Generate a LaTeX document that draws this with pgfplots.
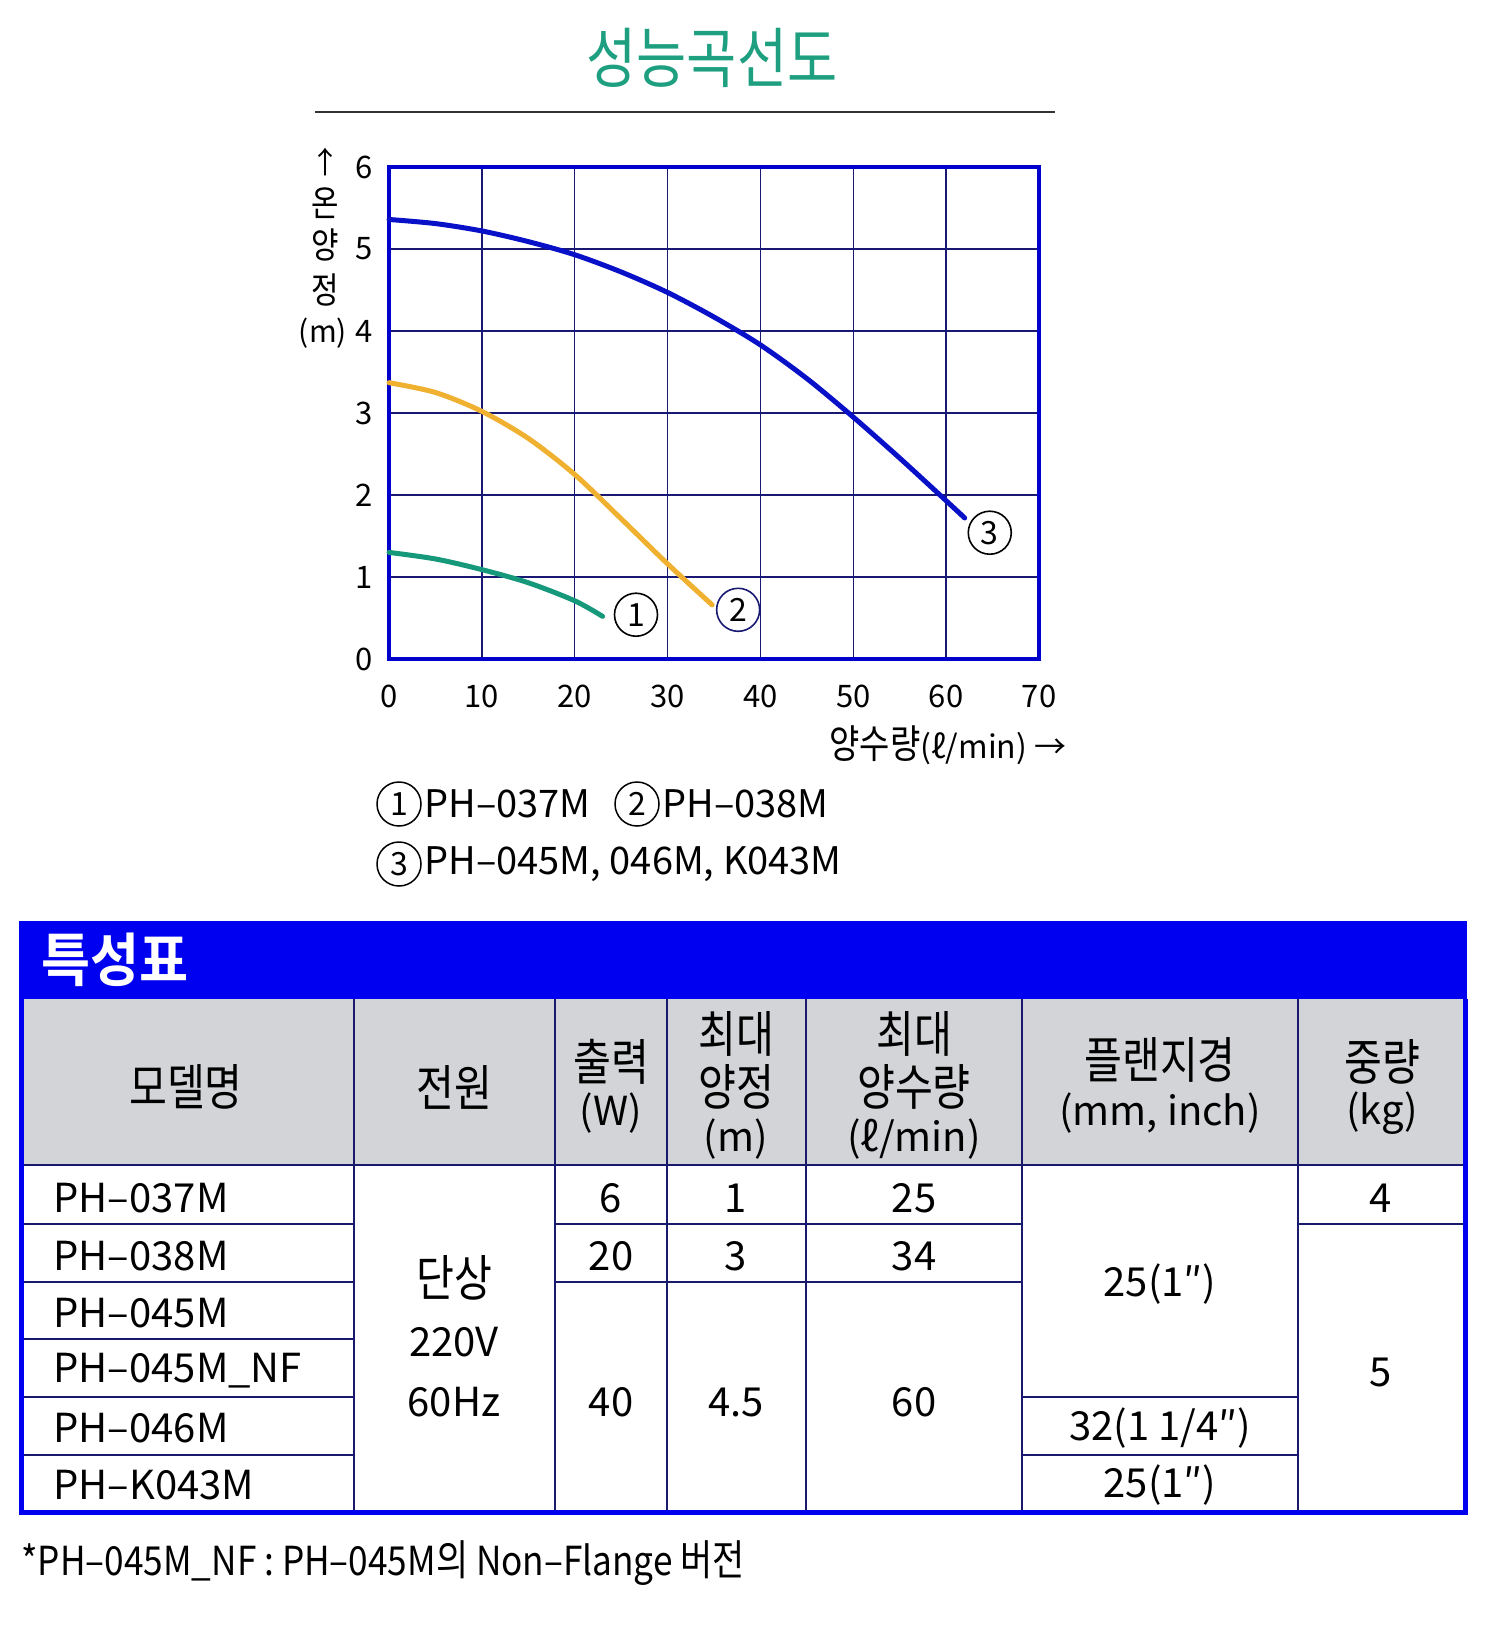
\documentclass[border=0pt]{standalone}
\usepackage{fontspec}
\usepackage{pgfplots}
\pgfplotsset{compat=1.18}
\setmainfont{Noto Sans CJK KR}
\newfontfamily\krfont{Noto Sans CJK KR}[FakeStretch=0.83,Scale=1.24]
\newfontfamily\narrowfont{Noto Sans CJK KR}[FakeStretch=0.88]
\newfontfamily\boldkr{Noto Sans CJK KR Bold}[FakeStretch=0.92]
\newcommand\K[1]{{\krfont #1}}
\newcommand\fs[1]{\fontsize{#1}{#1}\selectfont}

\definecolor{titlegreen}{RGB}{30,160,128}
\definecolor{c1}{RGB}{22,152,122}
\definecolor{c2}{RGB}{240,176,48}
\definecolor{c3}{RGB}{8,16,200}
\definecolor{axisblue}{RGB}{0,0,205}
\definecolor{gridnavy}{RGB}{25,25,115}
\definecolor{barblue}{RGB}{0,0,240}
\definecolor{headgrey}{RGB}{211,212,216}
\definecolor{rulenavy}{RGB}{25,25,110}

\begin{document}
\begin{tikzpicture}
\useasboundingbox (0pt,0pt) rectangle (1484pt,-1646pt);

% performance curves
\begin{axis}[
    at={(389pt,-167pt)}, anchor=north west,
    scale only axis, width=650pt, height=492pt,
    xmin=0, xmax=70, ymin=0, ymax=6,
    xtick={0,10,...,70}, ytick={0,1,...,6},
    grid=major,
    major grid style={draw=gridnavy, line width=1.3pt},
    axis line style={draw=axisblue, line width=4pt},
    major tick length=0pt,
    ticklabel style={font=\fs{31}},
    /pgf/number format/assume math mode=true,
    xticklabel style={yshift=-22pt},
    yticklabel style={xshift=-13pt},
    clip=false,
]
\addplot[smooth, c1, line width=5pt, line cap=round] coordinates {
    (0,1.30) (5,1.22) (10,1.09) (15,0.93) (20,0.71) (23,0.52)};
\addplot[smooth, c2, line width=5pt, line cap=round] coordinates {
    (0,3.37) (5,3.25) (10,3.02) (15,2.69) (20,2.25) (25,1.71) (30,1.16) (34.8,0.66)};
\addplot[smooth, c3, line width=5pt, line cap=round] coordinates {
    (0,5.36) (5,5.31) (10,5.22) (15,5.09) (20,4.93) (25,4.72) (30,4.47)
    (35,4.17) (40,3.83) (45,3.42) (50,2.95) (55,2.45) (60,1.93) (62,1.72)};
\tikzset{curvecirc/.style={circle, line width=1.6pt, minimum size=43pt, inner sep=0pt, font=\fs{32}}}
\node[curvecirc, draw=black] at (axis cs:26.6,0.54) {1};
\node[curvecirc, draw=gridnavy] at (axis cs:37.6,0.60) {2};
\node[curvecirc, draw=black] at (axis cs:64.7,1.54) {3};
\end{axis}

\begin{scope}[x=1pt, y=-1pt]
% title and rule
\node[text=titlegreen, font=\fs{53}] at (712,58) {\K{성능곡선도}};
\draw[black!80, line width=1.5pt] (315,112) -- (1055,112);

% y label, stacked
\node[font=\fs{30}] at (325,162) {↑};
\node[font=\fs{29}] at (325,203) {\K{온}};
\node[font=\fs{29}] at (325,245) {\K{양}};
\node[font=\fs{29}] at (325,290) {\K{정}};
\node[font=\fs{30}] at (323,333) {(m)};

% x label
\node[anchor=west, font=\fs{32}] at (826,745) {\K{양수량}(ℓ/min) →};

% model key
\tikzset{keycirc/.style={circle, draw=black, line width=1.5pt, minimum size=44pt, inner sep=0pt, font=\fs{32}}}
\node[keycirc] at (399,804) {1};
\node[anchor=west, font=\fs{38}] at (421,804) {PH–037M};
\node[keycirc] at (637,804) {2};
\node[anchor=west, font=\fs{38}] at (659,804) {PH–038M};
\node[keycirc] at (399,864) {3};
\node[anchor=west, font=\fs{38}] at (421,864) {PH–045M, 046M, K043M};

% spec table
\fill[barblue] (19,921) rectangle (1467,1001);
\node[anchor=west, text=white, font=\fs{58}\boldkr] at (38,960) {특성표};
\fill[headgrey] (22,999) rectangle (1463,1165);
\begin{scope}[draw=rulenavy, line width=1.4pt]
\draw (22,1165) -- (1463,1165);
\foreach \y in {1224,1282,1339,1397,1455} \draw (22,\y) -- (354,\y);
\foreach \y in {1224,1282} \draw (555,\y) -- (1022,\y);
\foreach \y in {1397,1455} \draw (1022,\y) -- (1298,\y);
\draw (1298,1224) -- (1463,1224);
\foreach \x in {354,555,667,806,1022,1298} \draw (\x,999) -- (\x,1512);
\end{scope}
\draw[barblue, line width=5pt] (21,999) -- (21,1512) -- (1465,1512) -- (1465,999);

% header cells
\begin{scope}[font=\fs{40}]
\node at (186,1087) {\K{모델명}};
\node at (454,1087) {\K{전원}};
\node at (611,1062) {\K{출력}};
\node at (611,1113) {(W)};
\node at (736,1034) {\K{최대}};
\node at (736,1087) {\K{양정}};
\node at (736,1139) {(m)};
\node at (914,1034) {\K{최대}};
\node at (914,1087) {\K{양수량}};
\node at (914,1139) {(ℓ/min)};
\node at (1160,1060) {\K{플랜지경}};
\node at (1160,1113) {(mm, inch)};
\node at (1382,1062) {\K{중량}};
\node at (1382,1113) {(kg)};

% body cells
\node[anchor=west] at (50,1198) {PH–037M};
\node[anchor=west] at (50,1256) {PH–038M};
\node[anchor=west] at (50,1313) {PH–045M};
\node[anchor=west] at (50,1371) {PH–045M\_NF};
\node[anchor=west] at (50,1428) {PH–046M};
\node[anchor=west] at (50,1485) {PH–K043M};
\node at (454,1278) {\K{단상}};
\node at (454,1342) {220V};
\node at (454,1402) {60Hz};
\node at (611,1198) {6};
\node at (611,1256) {20};
\node at (611,1402) {40};
\node at (736,1198) {1};
\node at (736,1256) {3};
\node at (736,1402) {4.5};
\node at (914,1198) {25};
\node at (914,1256) {34};
\node at (914,1402) {60};
\node at (1160,1284) {25(1″)};
\node at (1160,1428) {32(1 1/4″)};
\node at (1160,1485) {25(1″)};
\node at (1381,1198) {4};
\node at (1381,1372) {5};
\end{scope}

% footnote
\node[anchor=west, font=\fs{40}\narrowfont] at (18,1563)
    {*PH–045M\_NF : PH–045M{\fs{34}\krfont 의} Non–Flange {\fs{34}\krfont 버전}};
\end{scope}
\end{tikzpicture}
\end{document}
